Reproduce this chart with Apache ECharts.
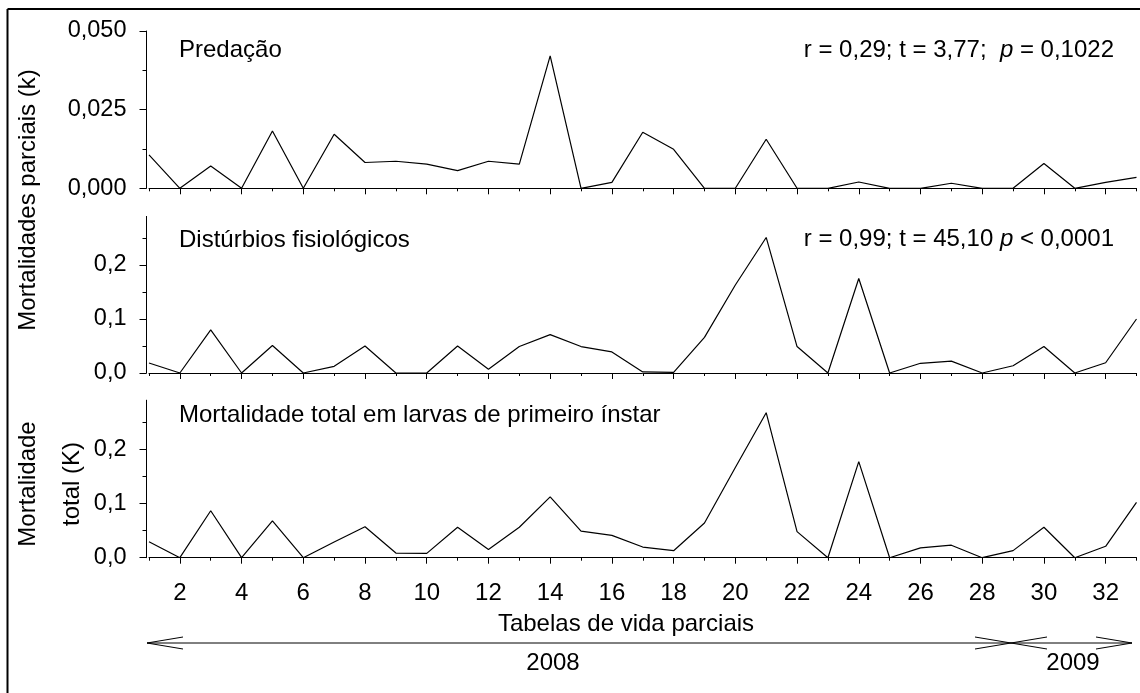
<!DOCTYPE html>
<html>
<head>
<meta charset="utf-8">
<script src="https://cdn.jsdelivr.net/npm/echarts@6/dist/echarts.min.js"></script>
<style>
html,body{margin:0;padding:0;background:#fff;}
#c{width:1140px;height:693px;}
</style>
</head>
<body>
<div id="c"></div>
<script>
// ---- data ----
const tabelas = [1,2,3,4,5,6,7,8,9,10,11,12,13,14,15,16,17,18,19,20,21,22,23,24,25,26,27,28,29,30,31,32,33];
const xLabelTicks = [2,4,6,8,10,12,14,16,18,20,22,24,26,28,30,32];
const xMinorTicks = [1,3,5,7,9,11,13,15,17,19,21,23,25,27,29,31,33];
const predacao = [0.0106,0,0.0071,0,0.0182,0,0.0172,0.0082,0.0086,0.0077,0.0056,0.0086,0.0077,0.0421,0,0.0019,0.0178,0.0124,0,0,0.0156,0,0,0.0020,0,0,0.0016,0,0,0.0079,0,0.0019,0.0035];
const disturbios = [0.0185,0,0.080,0,0.051,0,0.0123,0.050,0,0,0.050,0.0068,0.049,0.071,0.049,0.039,0.002,0.001,0.066,0.163,0.251,0.049,0,0.175,0,0.018,0.022,0,0.0135,0.049,0,0.019,0.100];
const total = [0.0294,0,0.0865,0,0.068,0,0.029,0.057,0.0086,0.008,0.056,0.0153,0.056,0.112,0.049,0.041,0.0196,0.0129,0.064,0.166,0.267,0.048,0,0.177,0,0.018,0.023,0,0.013,0.056,0,0.021,0.102];
const yTicksTop = [0, 0.025, 0.05];
const yMinorTop = [0.0125, 0.0375];
const yTicksLow = [0, 0.1, 0.2];
const yMinorLow = [0.05, 0.15, 0.25];

const FONT = '"Liberation Sans", Arial, sans-serif';
const chart = echarts.init(document.getElementById('c'), null, {renderer:'canvas'});

const grids = [
  {left:149, right:3.5, top:31, height:157.3},
  {left:149, right:3.5, top:216.4, height:156.6},
  {left:149, right:3.5, top:400.2, height:157.5}
];
const yMax = [0.05, 0.29, 0.29];
const xOff = [5.8, 6, 6];

const xAxes = [], yAxes = [];
grids.forEach((g, i) => {
  xAxes.push({
    type:'value', gridIndex:i, min:1, max:33, position:'bottom', offset:xOff[i],
    axisLine:{show:true, lineStyle:{color:'#000', width:1}},
    axisTick:{show:true, customValues:xMinorTicks, length:3, lineStyle:{color:'#000', width:1}},
    axisLabel:{show:false}, splitLine:{show:false}
  });
  xAxes.push({
    type:'value', gridIndex:i, min:1, max:33, position:'bottom', offset:xOff[i],
    axisLine:{show:false},
    axisTick:{show:true, customValues:xLabelTicks, length:6, lineStyle:{color:'#000', width:1}},
    axisLabel:{show:i===2, customValues:xLabelTicks, margin:18, fontSize:24, color:'#000', fontFamily:FONT},
    splitLine:{show:false}
  });
  const top = i === 0;
  yAxes.push({
    type:'value', gridIndex:i, min:0, max:yMax[i], position:'left', offset:2.5,
    axisLine:{show:true, lineStyle:{color:'#000', width:1}},
    axisTick:{show:true, customValues: top ? yTicksTop : yTicksLow, length:7, lineStyle:{color:'#000', width:1}},
    axisLabel:{show:true, customValues: top ? yTicksTop : yTicksLow, margin:20, fontSize:23.5, color:'#000', fontFamily:FONT,
      formatter: v => (top ? v.toFixed(3) : v.toFixed(1)).replace('.', ',')},
    splitLine:{show:false}
  });
  yAxes.push({
    type:'value', gridIndex:i, min:0, max:yMax[i], position:'left', offset:2.5,
    axisLine:{show:false},
    axisTick:{show:true, customValues: top ? yMinorTop : yMinorLow, length:4, lineStyle:{color:'#000', width:1}},
    axisLabel:{show:false}, splitLine:{show:false}
  });
});

function pts(vals){ return tabelas.map((x, k) => [x, vals[k]]); }
const seriesData = [predacao, disturbios, total];
const series = seriesData.map((vals, i) => ({
  type:'line', xAxisIndex:i*2, yAxisIndex:i*2, data:pts(vals),
  symbol:'none', silent:true, animation:false,
  lineStyle:{color:'#000', width:1.2}
}));

const txt = (x, y, text, extra) => Object.assign({
  type:'text', x:x, y:y, silent:true,
  style:Object.assign({text:text, fill:'#000', font:'24px ' + FONT, textAlign:'left', textVerticalAlign:'middle'}, (extra||{}).style || {})
}, extra ? {rotation: extra.rotation || 0} : {});

const ln = (x1,y1,x2,y2,w) => ({type:'line', silent:true, shape:{x1:x1,y1:y1,x2:x2,y2:y2}, style:{stroke:'#000', lineWidth:w||1}});

const ay = 643;
const graphic = [
  ln(7.5, 9, 1145, 9, 2),
  ln(7.5, 9, 7.5, 700, 2),
  txt(179, 50, 'Predação'),
  txt(179, 240, 'Distúrbios fisiológicos'),
  txt(179, 415, 'Mortalidade total em larvas de primeiro ínstar'),
  {type:'text', x:1114, y:50, silent:true, style:{
    text:'{n|r = 0,29; t = 3,77;  }{i|p}{n| = 0,1022}', textAlign:'right', textVerticalAlign:'middle',
    rich:{n:{fontSize:24, fontFamily:FONT, fill:'#000'}, i:{fontSize:24, fontFamily:FONT, fontStyle:'italic', fill:'#000'}}
  }},
  {type:'text', x:1114, y:239, silent:true, style:{
    text:'{n|r = 0,99; t = 45,10 }{i|p}{n| < 0,0001}', textAlign:'right', textVerticalAlign:'middle',
    rich:{n:{fontSize:24, fontFamily:FONT, fill:'#000'}, i:{fontSize:24, fontFamily:FONT, fontStyle:'italic', fill:'#000'}}
  }},
  txt(28, 200, 'Mortalidades parciais (k)', {rotation:Math.PI/2, style:{textAlign:'center'}}),
  txt(28, 484, 'Mortalidade', {rotation:Math.PI/2, style:{textAlign:'center'}}),
  txt(72, 484, 'total (K)', {rotation:Math.PI/2, style:{textAlign:'center'}}),
  txt(626, 624, 'Tabelas de vida parciais', {style:{textAlign:'center'}}),
  txt(553, 663, '2008', {style:{textAlign:'center'}}),
  txt(1073, 663, '2009', {style:{textAlign:'center'}}),
  // 2008 arrow
  ln(147, ay, 1011, ay, 1),
  ln(147, ay, 183, ay-6, 1), ln(147, ay, 183, ay+6, 1),
  ln(1011, ay, 975, ay-6, 1), ln(1011, ay, 975, ay+6, 1),
  // 2009 arrow
  ln(1011, ay, 1132, ay, 1),
  ln(1011, ay, 1047, ay-6, 1), ln(1011, ay, 1047, ay+6, 1),
  ln(1132, ay, 1096, ay-6, 1), ln(1132, ay, 1096, ay+6, 1)
];

chart.setOption({
  animation:false,
  backgroundColor:'#fff',
  textStyle:{fontFamily:FONT},
  grid:grids,
  xAxis:xAxes,
  yAxis:yAxes,
  series:series,
  graphic:graphic
});
</script>
</body>
</html>
